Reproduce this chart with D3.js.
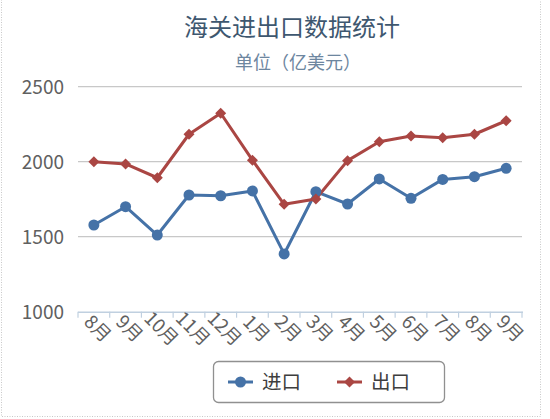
<!DOCTYPE html>
<html><head><meta charset="utf-8">
<script src="https://cdn.jsdelivr.net/npm/d3@7/dist/d3.min.js"></script>
<style>
html,body{margin:0;padding:0;background:#fff;}
svg{display:block;font-family:"Noto Sans CJK SC","Noto Sans",sans-serif;}
</style></head>
<body>
<svg id="chart" width="550" height="419"></svg>
<script>
const categories = ["8月","9月","10月","11月","12月","1月","2月","3月","4月","5月","6月","7月","8月","9月"];
const importValues = [1578, 1700, 1511, 1778, 1773, 1805, 1385, 1800, 1718, 1885, 1756, 1882, 1900, 1956];
const exportValues = [2000, 1985, 1893, 2183, 2323, 2010, 1716, 1751, 2007, 2133, 2171, 2160, 2183, 2273];
const yTicks = [1000, 1500, 2000, 2500];
const seriesNames = ["进口", "出口"];
const titleText = "海关进出口数据统计";
const subtitleText = "单位（亿美元）";

(function(){
const svg = d3.select("#chart");
const blue = "#4572A7", red = "#AA4643";

svg.append("rect").attr("x",1.5).attr("y",-2).attr("width",539).attr("height",418.5)
  .attr("fill","none").attr("stroke","#c8c8c8").attr("stroke-dasharray","1,1.5");

const pLeft = 78, pRight = 522, pTop = 86.7, pBottom = 311.7;
const x = d3.scaleBand().domain(d3.range(categories.length)).range([pLeft, pRight]);
const y = d3.scaleLinear().domain([1000, 2500]).range([pBottom, pTop]);

svg.append("text").attr("x",292).attr("y",36).attr("text-anchor","middle")
  .attr("font-size",24).attr("fill","#3E576F").text(titleText);
svg.append("text").attr("x",298).attr("y",69).attr("text-anchor","middle")
  .attr("font-size",18).attr("fill","#6D869F").text(subtitleText);

svg.append("g").selectAll("line").data(yTicks.filter(d=>d>1000)).join("line")
  .attr("x1",pLeft).attr("x2",pRight).attr("y1",d=>y(d)).attr("y2",d=>y(d))
  .attr("stroke","#C8C8C8").attr("stroke-width",1.3);

svg.append("g").selectAll("text").data(yTicks).join("text")
  .attr("x",64).attr("y",d=>y(d)).attr("dy","0.36em").attr("text-anchor","end")
  .attr("font-size",19).attr("fill","#606060").text(d=>d);

const xAxisG = svg.append("g");
xAxisG.append("line").attr("x1",pLeft).attr("x2",pRight+1).attr("y1",pBottom+0.5).attr("y2",pBottom+0.5)
  .attr("stroke","#C0D0E0").attr("stroke-width",1.5);
const bounds = d3.range(categories.length+1).map(i => i < categories.length ? x(i) : x(categories.length-1)+x.bandwidth());
xAxisG.selectAll("line.tick").data(bounds).join("line").attr("class","tick")
  .attr("x1",d=>d).attr("x2",d=>d).attr("y1",pBottom).attr("y2",pBottom+6)
  .attr("stroke","#C0D0E0").attr("stroke-width",1.2);
xAxisG.selectAll("text").data(categories).join("text")
  .attr("transform",(d,i)=>`translate(${x(i)+x.bandwidth()/2+4},${pBottom+17}) rotate(45)`)
  .attr("text-anchor","middle").attr("dy","0.35em")
  .attr("font-size",18.5).attr("fill","#606060").text(d=>d);

const cx = i => x(i) + x.bandwidth()/2;
const line = d3.line().x((d,i)=>cx(i)).y(d=>y(d));

svg.append("path").datum(importValues).attr("d",line).attr("fill","none")
  .attr("stroke",blue).attr("stroke-width",3).attr("stroke-linejoin","round");
svg.append("path").datum(exportValues).attr("d",line).attr("fill","none")
  .attr("stroke",red).attr("stroke-width",3).attr("stroke-linejoin","round");

svg.append("g").selectAll("circle").data(importValues).join("circle")
  .attr("cx",(d,i)=>cx(i)).attr("cy",d=>y(d)).attr("r",5.5).attr("fill",blue);
const diamond = (px,py,s)=>`M${px},${py-s}L${px+s},${py}L${px},${py+s}L${px-s},${py}Z`;
svg.append("g").selectAll("path").data(exportValues).join("path")
  .attr("d",(d,i)=>diamond(cx(i),y(d),5.5)).attr("fill",red);

const lg = svg.append("g");
lg.append("rect").attr("x",213.5).attr("y",361.5).attr("width",231).attr("height",41).attr("rx",5)
  .attr("fill","#fff").attr("stroke","#909090").attr("stroke-width",1.3);
const items = [{name:seriesNames[0], color:blue, x0:228, type:"circle"},
               {name:seriesNames[1], color:red, x0:337, type:"diamond"}];
items.forEach(it=>{
  lg.append("line").attr("x1",it.x0).attr("x2",it.x0+25).attr("y1",382).attr("y2",382)
    .attr("stroke",it.color).attr("stroke-width",3);
  if(it.type==="circle") lg.append("circle").attr("cx",it.x0+12.5).attr("cy",382).attr("r",5.5).attr("fill",it.color);
  else lg.append("path").attr("d",diamond(it.x0+12.5,382,5.5)).attr("fill",it.color);
  lg.append("text").attr("x",it.x0+34).attr("y",382).attr("dy","0.36em")
    .attr("font-size",19.5).attr("fill","#3E3E3E").text(it.name);
});
})();
</script>
</body></html>
